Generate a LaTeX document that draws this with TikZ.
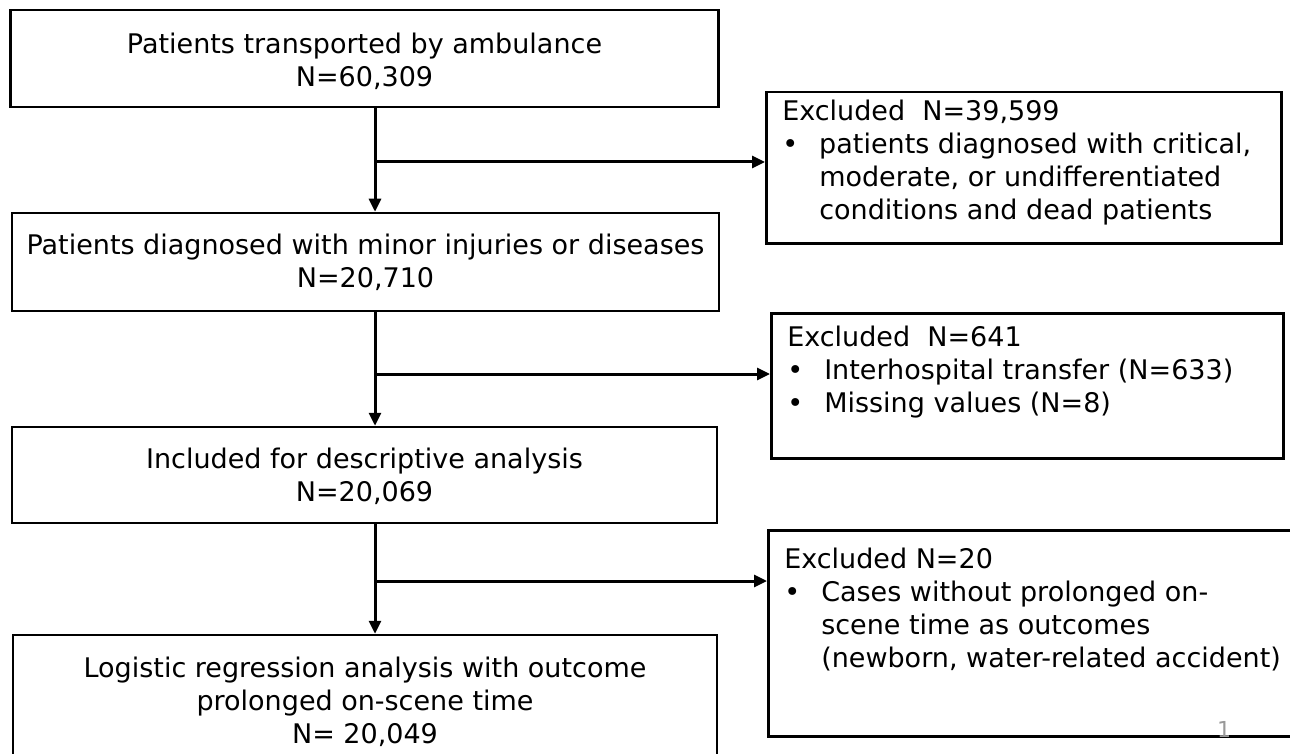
\documentclass[tikz,border=0pt]{standalone}
\usepackage{fontspec}
\setmainfont{DejaVu Sans}
\usetikzlibrary{arrows.meta,
	calc,
	positioning}
\newcommand{\boxfont}{\fontsize{27}{33}\selectfont}
% excluded box body: height, width, top gap, rows
\newcommand{\excltext}[4]{\parbox[c][#1][t]{#2}{\vspace*{#3}\hspace*{16pt}\begin{tabular}[t]{@{}p{37pt}@{}l@{}}#4\end{tabular}}}
% lower the text of a box without moving the box
\newcommand{\lowered}[2]{\raisebox{-#1}[\height][\depth]{\begin{tabular}{@{}c@{}}#2\end{tabular}}}

\begin{document}
\begin{tikzpicture}[x=1pt, y=-1pt,
	box/.style={draw, line width=2.5pt, align=center, inner sep=0pt, font=\boxfont},
	exclbox/.style={draw, line width=2.5pt, anchor=north west, inner sep=0pt, font=\boxfont},
	flow/.style={line width=3pt, -{Triangle[length=13pt, width=12pt]}}]
	\fill[white] (0,0) rectangle (1290,754);
	\useasboundingbox (0,0) rectangle (1290,754);
	% main column
	\node[box, minimum width=708pt, minimum height=97pt] (ptrans) at (364.5,58.5) {\lowered{5pt}{Patients transported by ambulance\\N=60,309}};
	\node[box, minimum width=707pt, minimum height=98pt] (minor) at (365.5,262) {Patients diagnosed with minor injuries or diseases\\N=20,710};
	\node[box, minimum width=705pt, minimum height=96pt] (descr) at (364.5,475) {\lowered{3pt}{Included for descriptive analysis\\N=20,069}};
	\node[box, minimum width=704pt, minimum height=134pt] (logit) at (365,702) {Logistic regression analysis with outcome\\prolonged on-scene time\\N= 20,049};
	% excluded
	\node[exclbox] (excl1) at (765,91) {\excltext{151pt}{515pt}{5pt}{%
		\multicolumn{2}{@{}l@{}}{Excluded\ \ N=39,599}\\
		\textbullet & patients diagnosed with critical,\\
		& moderate, or undifferentiated\\
		& conditions and dead patients}};
	\node[exclbox] (excl2) at (770,312) {\excltext{145pt}{512pt}{10pt}{%
		\multicolumn{2}{@{}l@{}}{Excluded\ \ N=641}\\
		\textbullet & Interhospital transfer (N=633)\\
		\textbullet & Missing values (N=8)}};
	\node[exclbox] (excl3) at (767,529) {\excltext{206pt}{560pt}{15pt}{%
		\multicolumn{2}{@{}l@{}}{Excluded N=20}\\
		\textbullet & Cases without prolonged on-\\
		& scene time as outcomes\\
		& (newborn, water-related accident)}};
	\node[text=gray!80, font=\fontsize{22}{24}\selectfont] (pagenum) at (1224,729) {1};
	% connectors
	\coordinate (sp1) at (375,162);
	\coordinate (sp2) at (375,374);
	\coordinate (sp3) at (375,581);
	\draw[flow] (ptrans.south -| sp1) -- (minor.north -| sp1);
	\draw[flow] (sp1) -- (sp1 -| excl1.west);
	\draw[flow] (minor.south -| sp2) -- (descr.north -| sp2);
	\draw[flow] (sp2) -- (sp2 -| excl2.west);
	\draw[flow] (descr.south -| sp3) -- (logit.north -| sp3);
	\draw[flow] (sp3) -- (sp3 -| excl3.west);
\end{tikzpicture}
\end{document}
